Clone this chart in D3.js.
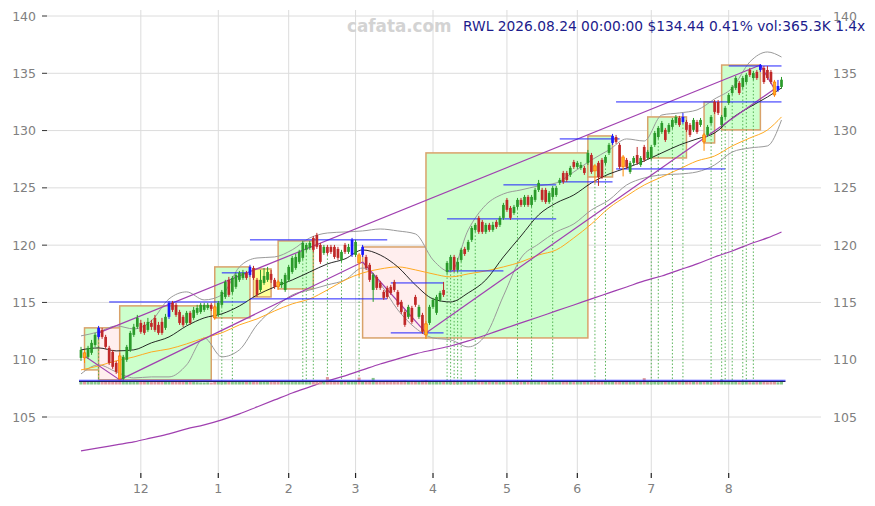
<!DOCTYPE html>
<html><head><meta charset="utf-8">
<script src="https://cdn.jsdelivr.net/npm/d3@7"></script>
<style>body{margin:0;background:#fff}svg{display:block}</style>
</head><body><svg id="c" width="875" height="506"></svg>
<script>
const ticker = "RWL";
const startDate = "2025-11-05", endDate = "2026-08-24";
const holidays = ["2025-11-27","2025-12-25","2026-01-01","2026-01-19","2026-02-16","2026-04-03","2026-05-25","2026-06-19","2026-07-03"];

const open = [110.16,110.60,110.25,110.60,111.29,111.99,112.60,111.99,111.03,110.68,
109.72,110.33,108.33,109.99,110.86,112.17,112.87,113.21,113.04,112.60,
113.21,113.65,113.04,113.30,112.78,113.74,114.96,114.79,114.17,113.74,
113.21,114.09,113.65,114.09,114.17,114.35,114.52,114.79,114.61,113.91,
114.79,115.48,116.97,115.92,116.36,116.97,117.14,117.58,117.40,118.01,
116.97,116.09,116.70,116.97,117.49,116.97,116.79,116.53,116.09,116.97,
117.66,118.01,118.54,118.89,119.59,119.76,120.63,120.89,120.02,119.32,
119.85,119.85,119.85,119.67,118.71,120.02,119.41,119.15,119.15,119.15,
119.15,118.97,118.28,116.09,117.23,116.70,115.92,116.27,116.36,116.79,
115.92,115.05,114.17,113.74,114.52,115.48,113.74,113.91,113.13,113.21,
114.61,114.09,115.22,116.09,117.66,117.84,118.97,117.84,118.71,119.67,
119.59,120.46,121.33,122.38,122.03,121.16,121.77,121.33,122.03,121.77,
122.38,123.95,123.25,122.81,123.34,123.95,123.51,124.21,123.51,123.95,
124.82,124.82,124.82,123.77,124.21,124.38,125.43,126.30,126.30,126.13,
127.26,126.83,126.74,126.74,127.18,127.87,126.92,127.18,127.44,127.18,
128.05,128.92,129.44,128.75,126.83,127.44,126.39,127.18,127.87,127.00,
128.57,127.61,127.61,128.75,129.44,129.88,130.06,129.88,130.32,130.66,
131.10,130.75,130.75,130.49,130.06,130.75,130.49,129.62,129.62,130.66,
132.50,132.50,130.49,131.19,132.41,133.28,133.72,134.16,133.81,134.24,
135.29,134.59,135.12,135.29,135.47,135.29,135.12,134.24,133.55,133.81];
const high = [111.12,110.86,111.21,111.73,112.34,112.95,112.78,112.17,111.21,110.86,
109.90,110.60,110.42,111.29,112.52,113.13,113.91,113.48,113.30,113.65,
113.48,113.91,113.30,113.65,114.00,115.13,115.13,114.96,114.35,113.91,
114.26,114.26,114.61,114.79,114.96,114.96,114.96,114.96,114.79,115.13,
116.09,116.97,117.23,117.31,117.58,117.75,117.84,117.75,118.28,118.19,
117.14,117.84,118.01,118.10,117.84,117.14,116.97,117.05,117.58,118.28,
119.06,119.23,119.59,120.37,120.19,120.37,120.80,121.07,120.19,120.02,
120.02,120.02,120.02,119.85,119.59,120.19,120.11,120.63,120.46,119.32,
120.02,119.15,118.45,117.58,117.40,116.88,116.09,116.45,116.53,116.97,
116.09,115.22,114.35,114.79,114.70,115.66,114.79,114.09,113.39,114.79,
115.40,115.66,116.01,116.79,118.62,119.15,119.15,118.89,119.76,119.85,
120.46,121.68,121.94,122.55,122.20,121.94,121.94,122.03,122.20,122.55,
123.69,124.12,123.42,123.51,124.12,124.12,124.38,124.38,124.38,125.00,
125.69,125.00,125.00,124.73,125.17,125.17,125.87,126.48,126.48,126.92,
127.44,127.35,127.26,126.92,128.31,128.05,127.09,127.35,127.61,127.87,
128.92,129.71,129.62,128.92,127.87,127.61,127.35,127.78,128.57,127.78,
128.75,128.31,128.75,129.97,130.40,130.84,130.23,130.66,131.10,131.36,
131.28,131.54,130.93,130.66,131.10,130.93,131.10,129.79,130.49,131.36,
132.67,132.67,131.36,132.15,133.28,133.98,134.77,134.33,134.77,135.03,
135.47,135.21,135.29,135.81,135.64,135.64,135.29,134.42,134.42,134.68];
const low = [109.90,109.72,110.07,110.42,111.12,111.82,111.82,110.94,109.55,109.20,
108.76,108.15,108.15,109.81,110.68,111.99,112.69,112.26,112.17,112.43,
112.60,112.43,112.17,112.17,112.60,113.56,114.17,113.74,113.04,112.87,
113.04,113.04,113.48,113.91,114.00,114.17,114.35,114.26,113.48,113.74,
114.61,115.31,115.48,115.74,116.18,116.79,116.97,116.97,117.23,116.97,
115.48,115.92,116.53,116.79,116.70,116.18,116.09,116.27,115.92,116.79,
117.49,117.84,118.36,118.71,119.41,119.59,119.41,119.67,118.36,119.15,
119.15,119.23,118.80,118.71,118.54,119.23,119.23,118.97,118.97,117.23,
118.97,117.84,116.79,115.05,116.09,116.09,115.22,115.31,115.66,115.92,
114.61,114.00,112.87,113.56,113.13,114.61,113.56,112.26,111.82,113.04,
114.44,113.91,115.05,115.48,117.49,117.75,117.66,117.66,118.54,119.06,
119.41,120.28,121.16,120.98,120.98,120.98,121.16,121.16,121.42,121.59,
122.20,122.90,122.20,122.64,123.16,123.34,123.34,123.34,123.34,123.77,
124.64,123.77,123.60,123.60,124.03,124.21,125.26,125.34,125.52,125.95,
126.65,126.65,126.57,126.13,127.00,126.22,125.40,125.17,125.78,127.00,
127.87,128.75,128.84,126.65,126.00,126.65,126.22,127.00,127.00,126.83,
127.26,127.44,127.44,128.57,129.27,129.71,129.01,129.71,130.14,130.49,
130.32,130.58,129.88,129.44,129.88,129.71,130.32,128.23,129.44,130.49,
131.45,131.36,130.32,131.01,132.24,133.11,133.55,133.11,133.63,134.07,
134.68,134.42,134.42,135.12,134.07,134.42,134.07,132.94,133.38,133.64];
const close = [110.86,110.16,111.03,111.47,112.17,112.78,111.99,111.12,109.72,109.38,
108.94,108.33,110.25,111.12,112.34,112.87,113.65,112.43,112.34,113.30,
112.87,112.60,112.34,112.34,113.74,114.96,114.35,113.91,113.21,113.04,
114.09,113.21,114.35,114.52,114.79,114.79,114.79,114.44,113.65,114.96,
115.92,116.79,115.66,117.14,117.40,117.58,117.58,117.14,118.10,117.14,
115.66,116.97,117.31,117.66,116.97,116.36,116.36,116.79,117.40,118.10,
118.89,118.97,119.41,120.19,120.02,120.19,119.59,119.85,118.54,119.85,
119.32,119.41,118.97,118.89,119.41,119.41,119.85,120.46,120.28,118.45,
119.85,118.01,116.97,117.40,116.27,116.27,115.40,115.48,115.83,116.09,
114.79,114.17,113.04,114.61,113.30,114.79,114.61,112.43,112.17,114.61,
115.22,115.48,115.83,115.66,118.45,118.97,117.84,118.54,119.59,119.23,
120.28,121.50,121.77,121.16,121.16,121.77,121.33,121.77,121.59,122.38,
123.51,123.08,122.38,123.34,123.95,123.51,124.21,123.51,124.21,124.82,
125.43,123.95,123.77,124.56,125.00,125.00,125.69,125.52,125.69,126.74,
126.83,127.18,127.00,126.30,128.05,126.39,126.48,125.95,125.95,127.70,
128.75,129.53,129.01,126.83,127.70,126.83,127.18,127.61,127.18,127.61,
127.44,128.14,128.57,129.79,130.23,130.66,129.18,130.49,130.93,131.19,
130.49,131.19,130.06,129.62,130.93,129.88,130.93,129.01,130.32,131.19,
131.63,131.54,131.19,131.98,133.11,133.81,134.59,133.28,134.59,134.86,
134.86,135.03,134.59,135.73,134.24,134.59,134.24,133.11,133.89,134.44];
const volume = [310,280,260,300,290,320,270,330,350,340,
360,420,380,300,290,260,250,280,270,240,
230,260,250,240,270,330,280,300,290,260,
250,240,230,220,200,190,210,180,260,250,
280,300,290,270,260,250,240,260,290,300,
320,280,260,250,270,280,300,260,270,290,
300,280,270,260,250,240,260,280,310,320,
700,280,270,260,290,270,260,300,330,650,
320,340,360,620,330,300,320,340,310,300,
330,350,380,320,340,310,300,360,420,350,
330,310,290,280,300,320,290,280,270,260,
280,300,270,260,250,240,250,260,240,230,
270,260,250,240,230,240,250,260,240,230,
250,270,260,240,230,220,230,260,250,240,
230,240,250,260,280,300,290,280,300,270,
280,300,290,310,320,280,260,250,240,250,
600,280,300,290,270,260,250,260,250,240,
260,270,280,260,250,240,260,280,300,290,
270,260,480,250,240,230,250,220,230,240,
220,210,230,250,240,220,230,250,210,365.3];
const pivotHighBars = [5,25,48,77,80,151,171,193,198];
const pivotLowBars = [1,11,38,56,79,98,146,154,177,197];

const sampleIdx = [0,5,10,15,20,25,30,35,40,45,50,55,60,65,70,75,80,85,90,95,100,105,110,115,120,125,130,135,140,145,150,155,160,165,170,175,180,185,190,195,199];
const ma20 = [110.86,111.03,110.77,110.86,111.47,111.99,112.95,113.65,114.00,114.69,115.65,116.35,116.96,117.66,118.36,118.80,119.58,119.14,118.10,116.53,115.31,115.04,115.83,116.96,118.97,120.80,122.64,123.68,124.38,125.43,126.21,126.74,127.35,128.05,128.74,129.27,129.79,131.10,132.06,132.93,133.72];
const ma60 = [109.11,109.46,109.90,110.24,110.68,110.94,111.38,111.90,112.34,113.04,113.56,114.26,114.87,115.31,116.09,116.96,117.57,117.92,118.10,117.84,117.49,117.23,117.49,117.75,118.10,118.53,119.14,119.58,120.63,121.85,123.25,124.29,125.25,125.95,126.65,127.35,127.78,128.66,129.35,130.05,131.19];
const bbUpper = [112.08,112.43,112.95,112.69,113.39,115.31,115.92,115.22,115.65,118.10,118.88,118.97,119.59,120.63,121.06,121.15,121.24,121.41,121.24,120.98,118.71,117.66,121.33,123.51,124.47,124.82,125.17,125.43,126.39,127.43,128.31,129.27,129.09,131.36,131.54,131.80,132.76,133.72,135.99,136.86,136.42];
const bbLower = [108.76,109.55,108.94,108.41,108.50,108.50,109.55,111.90,110.25,110.86,113.04,114.52,115.65,116.09,116.53,116.96,118.01,116.62,114.35,112.77,111.90,111.73,111.12,112.16,115.57,118.88,120.10,121.15,121.85,123.07,123.94,125.25,125.86,126.13,126.21,126.39,127.00,128.13,128.48,128.66,130.92];
const longTrend = [102.04,102.30,102.57,102.83,103.18,103.53,103.96,104.31,104.75,105.27,105.88,106.49,107.10,107.63,108.15,108.59,109.11,109.63,110.07,110.51,110.86,111.20,111.64,112.16,112.69,113.21,113.73,114.26,114.78,115.31,115.83,116.35,116.88,117.31,117.84,118.36,118.97,119.49,120.10,120.63,121.15];

const trendLines = [[5,112.34,193,135.72],[1,110.33,11,108.24],[11,108.24,80,118.53],[80,118.53,98,112.34],[98,112.34,197,133.63],[193,135.72,197,133.63]];
const levels = [[8,47,115.04],[40,47,117.58],[48,87,120.46],[48,87,115.31],[88,103,116.70],[88,103,112.34],[104,120,117.75],[104,135,122.29],[120,135,125.26],[136,151,125.52],[136,153,129.27],[152,199,132.50],[152,183,126.65],[184,199,135.64]];
const boxes = [[1,5,112.78,109.11,"up"],[5,11,112.78,108.24,"down"],[11,37,114.70,108.24,"up"],[38,48,118.10,113.65,"up"],[49,54,117.92,115.48,"flat"],[56,66,120.37,116.18,"up"],[80,98,119.84,111.90,"down"],[98,144,128.05,111.90,"up"],[144,151,129.53,125.95,"up"],[161,172,131.19,127.61,"up"],[177,180,132.50,128.92,"up"],[182,193,135.72,130.06,"up"]];
const signalBars = [5,40,43,63,64,66,70,74,79,104,105,106,107,108,112,124,128,134,146,149,162,164,168,171,179,182,183,185,188,189,191];
const yTicks = [105,110,115,120,125,130,135,140];

function tradingDays(s, e, hol) {
  const hs = new Set(hol), out = [];
  let d = new Date(s + "T00:00:00Z");
  const end = new Date(e + "T00:00:00Z");
  while (d <= end) {
    const wd = d.getUTCDay(), k = d.toISOString().slice(0, 10);
    if (wd !== 0 && wd !== 6 && !hs.has(k)) out.push(k);
    d = new Date(d.getTime() + 86400000);
  }
  return out;
}
const dates = tradingDays(startDate, endDate, holidays);
const monthTicks = [];
dates.forEach((d, i) => { if (i > 0 && d.slice(5, 7) !== dates[i - 1].slice(5, 7)) monthTicks.push([i, String(+d.slice(5, 7))]); });

const svg = d3.select("#c");
const n = close.length;
const plotL = 47, plotR = 821, plotT = 10, plotB = 473;
const x = d3.scaleLinear().domain([0, n - 1]).range([81, 781.5]);
const y = d3.scaleLinear().domain([105, 140]).range([417, 16]);
const vy = d3.scaleLinear().domain([0, 800]).range([384.5, 376]);
const font = "'DejaVu Sans', Verdana, sans-serif";

const g0 = svg.append("g");
yTicks.forEach(v => g0.append("line").attr("x1", plotL).attr("x2", plotR).attr("y1", y(v)).attr("y2", y(v)).attr("stroke", "#dcdcdc").attr("stroke-width", 1));
monthTicks.forEach(([i]) => g0.append("line").attr("x1", x(i)).attr("x2", x(i)).attr("y1", plotT).attr("y2", plotB).attr("stroke", "#dcdcdc").attr("stroke-width", 1));

const fillMap = { up: "#ccffcc", down: "#ffeeee", flat: "#ffff99" };
svg.append("g").selectAll("rect").data(boxes).join("rect")
  .attr("x", d => x(d[0])).attr("y", d => y(d[2]))
  .attr("width", d => x(d[1]) - x(d[0])).attr("height", d => y(d[3]) - y(d[2]))
  .attr("fill", d => fillMap[d[4]]).attr("stroke", "#d9a26a").attr("stroke-width", 1.5);

svg.append("g").selectAll("line").data(signalBars).join("line")
  .attr("x1", i => x(i)).attr("x2", i => x(i))
  .attr("y1", i => y(low[i])).attr("y2", vy(0))
  .attr("stroke", "#44aa44").attr("stroke-width", 0.9).attr("stroke-dasharray", "1.5,2");

const sline = arr => d3.line().x((v, k) => x(sampleIdx[k])).y(v => y(v)).curve(d3.curveMonotoneX)(arr);
const lg = svg.append("g").attr("fill", "none");
lg.append("path").attr("d", sline(bbUpper)).attr("stroke", "#9a9a9a").attr("stroke-width", 1);
lg.append("path").attr("d", sline(bbLower)).attr("stroke", "#9a9a9a").attr("stroke-width", 1);
lg.append("path").attr("d", sline(ma60)).attr("stroke", "#ffaa22").attr("stroke-width", 1);
lg.append("path").attr("d", sline(ma20)).attr("stroke", "#111").attr("stroke-width", 0.9);
lg.append("path").attr("d", sline(longTrend)).attr("stroke", "#a040b0").attr("stroke-width", 1.2);
trendLines.forEach(t => lg.append("line").attr("x1", x(t[0])).attr("y1", y(t[1])).attr("x2", x(t[2])).attr("y2", y(t[3])).attr("stroke", "#a040b0").attr("stroke-width", 1.2));

svg.append("g").selectAll("line").data(levels).join("line")
  .attr("x1", d => x(d[0])).attr("x2", d => x(d[1])).attr("y1", d => y(d[2])).attr("y2", d => y(d[2]))
  .attr("stroke", "#2222ff").attr("stroke-width", 1);

const hiSet = new Set(pivotHighBars), loSet = new Set(pivotLowBars);
const col = i => hiSet.has(i) ? "#1a1aff" : loSet.has(i) ? "#ff8c00" : (close[i] >= open[i] ? "#2a9a2a" : "#c02828");
const cg = svg.append("g");
const bw = 2.7;
d3.range(n).forEach(i => {
  cg.append("line").attr("x1", x(i)).attr("x2", x(i)).attr("y1", y(high[i])).attr("y2", y(low[i])).attr("stroke", col(i)).attr("stroke-width", 1);
  const top = y(Math.max(open[i], close[i])), bot = y(Math.min(open[i], close[i]));
  cg.append("rect").attr("x", x(i) - bw / 2).attr("y", top).attr("width", bw).attr("height", Math.max(1, bot - top))
    .attr("fill", loSet.has(i) ? "#ffb020" : col(i)).attr("stroke", loSet.has(i) ? "#ff6a00" : "none").attr("stroke-width", 0.6);
});

const vg = svg.append("g");
vg.selectAll("rect").data(volume).join("rect")
  .attr("x", (v, i) => x(i) - 1.5).attr("width", 3)
  .attr("y", v => vy(v)).attr("height", v => vy(0) - vy(v))
  .attr("fill", (v, i) => close[i] >= open[i] ? "#88c888" : "#e09a9a");
const vAvgAll = d3.mean(volume);
vg.append("line").attr("x1", x(0) - 2).attr("x2", x(n - 1) + 4).attr("y1", vy(vAvgAll * 1.4)).attr("y2", vy(vAvgAll * 1.4)).attr("stroke", "#3333ff").attr("stroke-width", 1);
vg.append("line").attr("x1", x(0) - 2).attr("x2", x(n - 1) + 4).attr("y1", vy(vAvgAll)).attr("y2", vy(vAvgAll)).attr("stroke", "#1a1a60").attr("stroke-width", 1);

const ag = svg.append("g").attr("font-family", font).attr("font-size", 12.5).attr("fill", "#808080");
yTicks.forEach(v => {
  ag.append("line").attr("x1", plotL - 5).attr("x2", plotL).attr("y1", y(v)).attr("y2", y(v)).attr("stroke", "#333");
  ag.append("text").attr("x", 36).attr("y", y(v) + 4.5).attr("text-anchor", "end").text(v);
  ag.append("text").attr("x", 833).attr("y", y(v) + 4.5).attr("text-anchor", "start").text(v);
});
monthTicks.forEach(([i, lab]) => {
  ag.append("line").attr("x1", x(i)).attr("x2", x(i)).attr("y1", plotB).attr("y2", plotB + 5).attr("stroke", "#222").attr("stroke-width", 1.2);
  ag.append("text").attr("x", x(i)).attr("y", 493).attr("text-anchor", "middle").text(lab);
});

const last = n - 1;
const pct = (close[last] / close[last - 1] - 1) * 100;
const vAvg20 = d3.mean(volume.slice(n - 20));
const ratio = volume[last] / vAvg20;
svg.append("text").attr("x", 347).attr("y", 32).attr("font-family", font).attr("font-weight", "bold").attr("font-size", 16.8).attr("fill", "#d3d3d3").text("cafata.com");
svg.append("text").attr("x", 463).attr("y", 31).attr("font-family", font).attr("font-size", 13.8).attr("fill", "#1c1c8c")
  .text(`${ticker} ${dates[last].replace(/-/g, ".")} 00:00:00 $${close[last].toFixed(2)} ${pct.toFixed(2)}% vol:${volume[last].toFixed(1)}K ${ratio.toFixed(1)}x`);
</script></body></html>
